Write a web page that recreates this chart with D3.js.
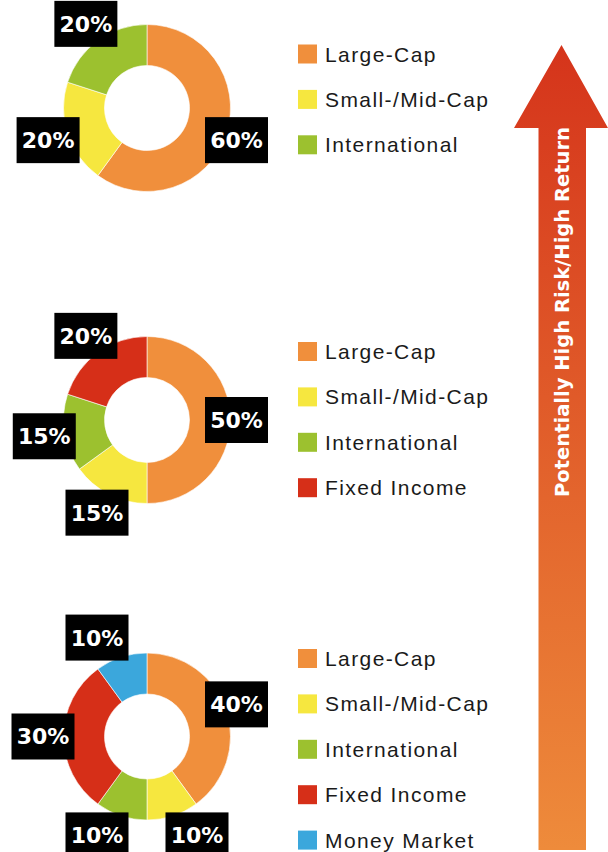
<!DOCTYPE html>
<html>
<head>
<meta charset="utf-8">
<script src="https://cdn.jsdelivr.net/npm/d3@7"></script>
<style>
  html, body { margin: 0; padding: 0; background: #fff; }
  svg { display: block; }
</style>
</head>
<body>
<div id="chart"></div>
<script>
// asset classes, in the order they are drawn clockwise from 12 o'clock
const categories = ["Large-Cap", "Small-/Mid-Cap", "International", "Fixed Income", "Money Market"];

// allocation of each portfolio (percent)
const aggressive   = [60, 20, 20];
const moderate     = [50, 15, 15, 20];
const conservative = [40, 10, 10, 30, 10];

const arrowLabel = "Potentially High Risk/High Return";

const width = 608, height = 852;

const color = d3.scaleOrdinal()
    .domain(categories)
    .range(["#f08f3c", "#f6e73f", "#9cc12f", "#d62f18", "#3ba7dc"]);

const svg = d3.select("#chart")
    .append("svg")
    .attr("width", width)
    .attr("height", height);

// layout of the three panels
const panels = [
    { values: aggressive,   cy: 108,   legendTop: 54 },
    { values: moderate,     cy: 420,   legendTop: 351.5 },
    { values: conservative, cy: 736.5, legendTop: 658.5 }
];

const cx = 147, outerR = 83.5, innerR = 42.5, labelR = 104;
const rowStep = 45.4;

const pie = d3.pie().sort(null).value(d => d.value);
const arc = d3.arc().innerRadius(innerR).outerRadius(outerR);
const labelArc = d3.arc().innerRadius(labelR).outerRadius(labelR);

// label box sits on the slice centroid, pushed sideways off the vertical axis
// and kept clear of the legend on the right
function labelPos(d) {
    let [x, y] = labelArc.centroid(d);
    if (Math.abs(x) < 50) x = (x < 0 ? -50 : 50);
    if (x > 89.5) x = 89.5;
    return [x, y];
}

panels.forEach(p => {
    const data = p.values.map((v, i) => ({ key: categories[i], value: v }));

    const g = svg.append("g")
        .attr("transform", `translate(${cx},${p.cy})`);

    g.selectAll("path")
        .data(pie(data))
        .enter()
        .append("path")
        .attr("d", arc)
        .attr("fill", d => color(d.data.key))
        .attr("stroke", "#fff")
        .attr("stroke-width", 0.6);

    // black label boxes
    const lab = g.selectAll(".lab")
        .data(pie(data))
        .enter()
        .append("g")
        .attr("class", "lab")
        .attr("transform", d => `translate(${labelPos(d)})`);

    lab.append("rect")
        .attr("x", -31.5)
        .attr("y", -23)
        .attr("width", 63)
        .attr("height", 46)
        .attr("fill", "#000");

    lab.append("text")
        .attr("text-anchor", "middle")
        .attr("dy", "0.36em")
        .style("font-family", "'DejaVu Sans', sans-serif")
        .style("font-weight", "bold")
        .style("font-size", "22px")
        .style("fill", "#fff")
        .text(d => d.data.value + "%");

    // legend
    const leg = svg.append("g")
        .attr("transform", `translate(298,${p.legendTop})`);

    const row = leg.selectAll(".row")
        .data(data)
        .enter()
        .append("g")
        .attr("class", "row")
        .attr("transform", (d, i) => `translate(0,${i * rowStep})`);

    row.append("rect")
        .attr("x", 0)
        .attr("y", -9.5)
        .attr("width", 19)
        .attr("height", 19)
        .attr("fill", d => color(d.key));

    row.append("text")
        .attr("x", 27)
        .attr("dy", "0.36em")
        .style("font-family", "'Liberation Sans', Arial, sans-serif")
        .style("font-size", "21px")
        .style("letter-spacing", "1.4px")
        .style("fill", "#1a1a1a")
        .text(d => d.key);
});

// risk arrow with vertical gradient
const defs = svg.append("defs");
const grad = defs.append("linearGradient")
    .attr("id", "arrowGrad")
    .attr("gradientUnits", "userSpaceOnUse")
    .attr("x1", 0).attr("y1", 45)
    .attr("x2", 0).attr("y2", 850);
grad.append("stop").attr("offset", "0%").attr("stop-color", "#d5341b");
grad.append("stop").attr("offset", "100%").attr("stop-color", "#ee8b3b");

const tipX = 561.5, tipY = 45, headY = 128, headL = 514, headR = 608,
      shaftL = 538.5, shaftR = 586, shaftB = 850;

svg.append("path")
    .attr("d", d3.line()([
        [tipX, tipY], [headR, headY], [shaftR, headY], [shaftR, shaftB],
        [shaftL, shaftB], [shaftL, headY], [headL, headY]
    ]) + "Z")
    .attr("fill", "url(#arrowGrad)");

svg.append("text")
    .attr("transform", `translate(${(shaftL + shaftR) / 2},312) rotate(-90)`)
    .attr("text-anchor", "middle")
    .attr("dy", "0.36em")
    .attr("textLength", 370)
    .attr("lengthAdjust", "spacingAndGlyphs")
    .style("font-family", "'DejaVu Sans', sans-serif")
    .style("font-weight", "bold")
    .style("font-size", "19px")
    .style("fill", "#fff")
    .text(arrowLabel);
</script>
</body>
</html>
